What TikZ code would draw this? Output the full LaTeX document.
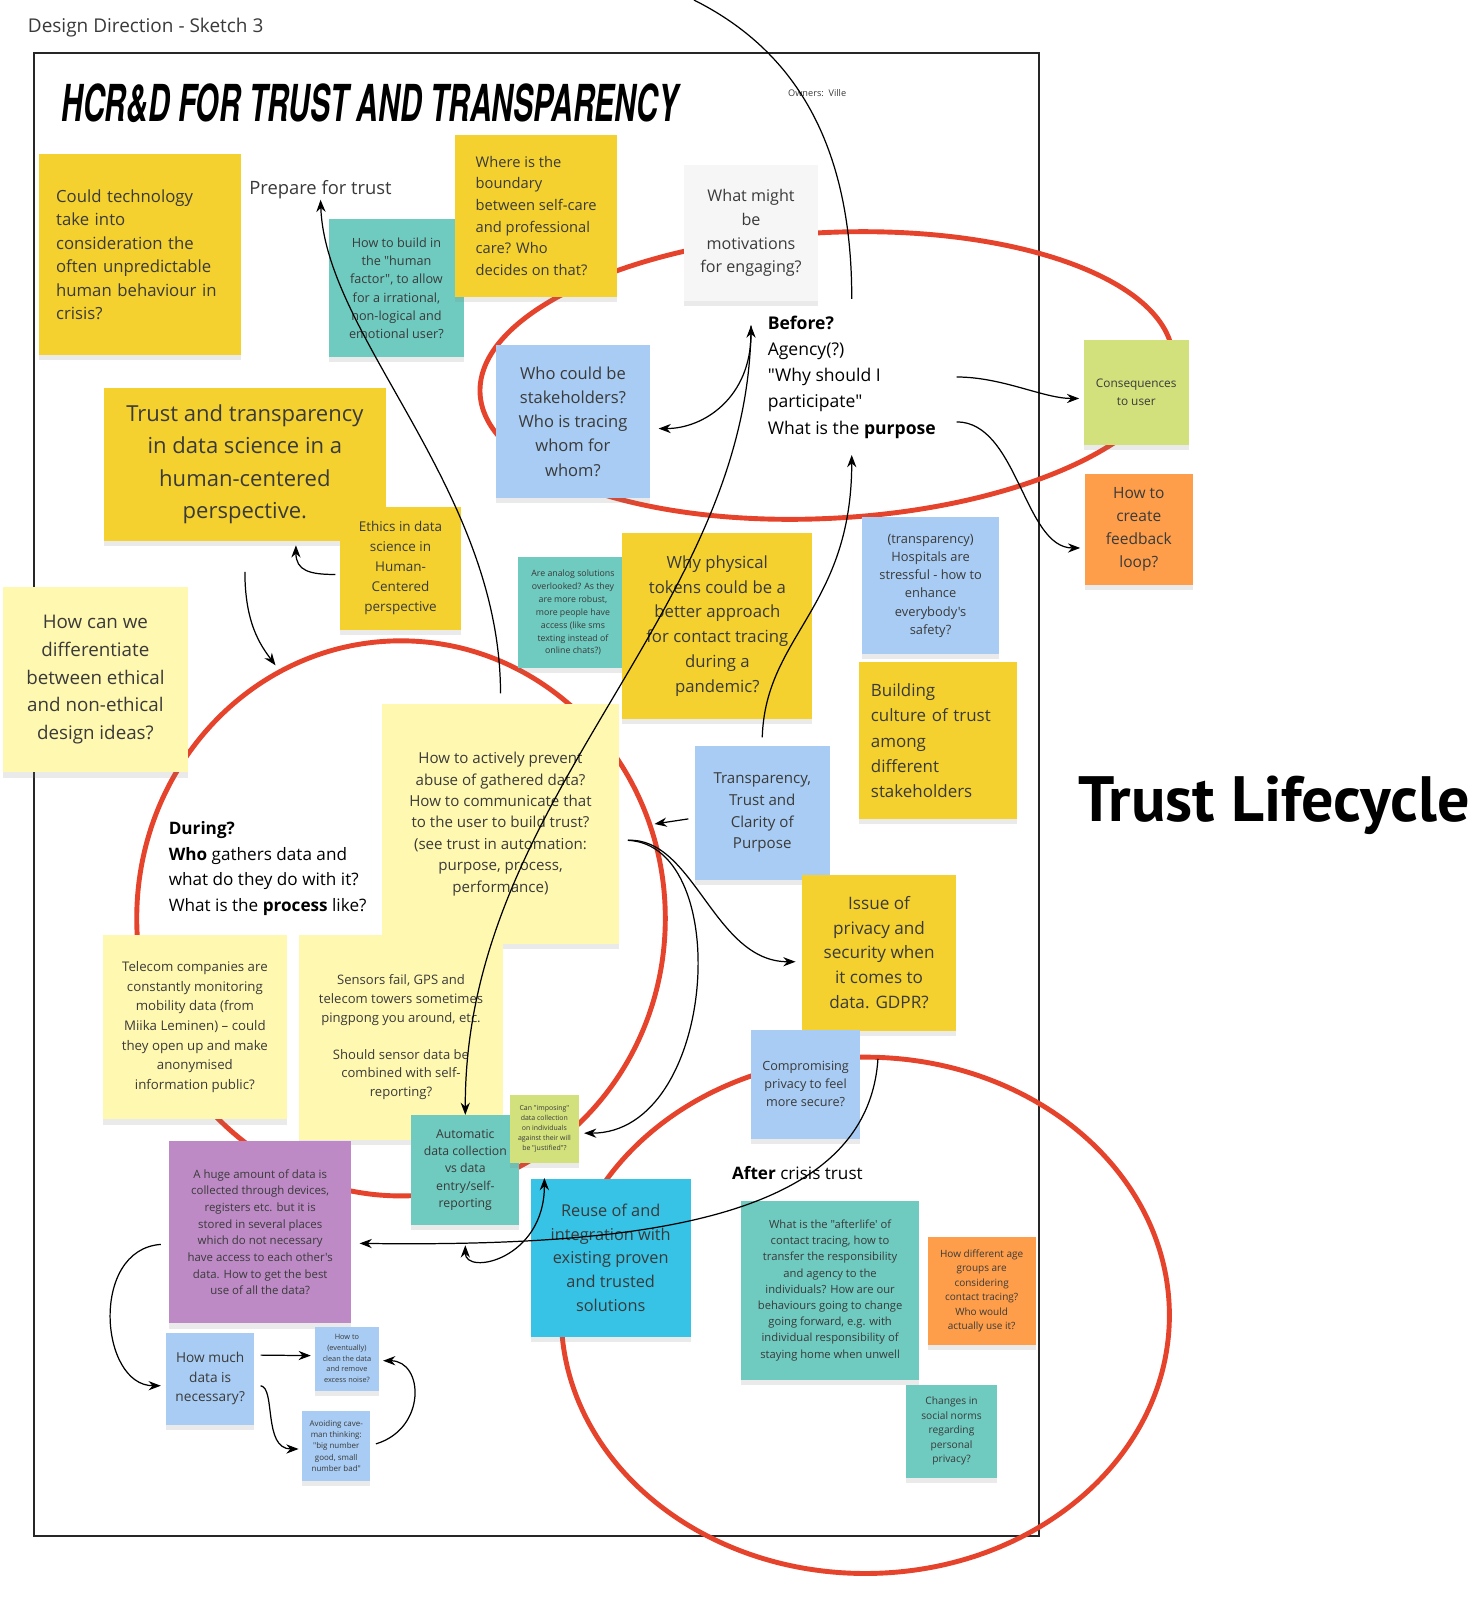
\documentclass[tikz,border=0pt]{standalone}
\usepackage{fontspec}
\usepackage{graphicx}
\setmainfont{Open Sans}[Ligatures=TeXOff]
\newfontfamily\titlefont{TeX Gyre Heros}
\newfontfamily\lifefont{PT Sans}
\usepackage{tikz}
\usetikzlibrary{arrows.meta,shadows,calc}
\definecolor{ink}{HTML}{3A3A3A}
\definecolor{stickyyellow}{HTML}{F4D12E}
\definecolor{stickypale}{HTML}{FFF8B0}
\definecolor{stickyteal}{HTML}{6FCABF}
\definecolor{stickyblue}{HTML}{A8CCF3}
\definecolor{stickylime}{HTML}{D2E17C}
\definecolor{stickyorange}{HTML}{FF9E4A}
\definecolor{stickypurple}{HTML}{BD8AC6}
\definecolor{stickycyan}{HTML}{36C3E6}
\definecolor{stickywhite}{HTML}{F6F6F6}
\definecolor{ringred}{HTML}{E5432B}
\newcommand\stickyfont[2]{\fontsize{#1}{#2}\selectfont}

\begin{document}
\begin{tikzpicture}[x=0.5pt,y=-0.5pt,
  sticky/.style={fill=#1,text=ink,inner sep=0pt,align=center,
    drop shadow={shadow xshift=0pt,shadow yshift=-2.5pt,opacity=.16}},
  sz/.style 2 args={minimum width=#1pt,minimum height=#2pt},
  plain/.style={inner sep=0pt,text=black},
  ring/.style={draw=ringred,line width=2.4pt},
  line/.style={line width=0.6pt},
  arr/.style={line width=0.6pt,-{Stealth[length=6pt,width=4.5pt]}},
  arrs/.style={line width=0.6pt,{Stealth[length=6pt,width=4.5pt]}-{Stealth[length=6pt,width=4.5pt]}}]
\useasboundingbox (0,0) rectangle (1452,1568);
\fill[white] (0,0) rectangle (1452,1568);
\node[plain,text=ink,anchor=base west,font=\stickyfont{9.3}{10}] (heading) at (27,32) {Design Direction - Sketch 3};
\draw[line width=1pt,draw=black!85] (33,52) rectangle (1018,1505);

% the three phases
\draw[ring,rotate around={3:(810,368)}] (810,368) ellipse [x radius=340,y radius=140];
\draw[ring] (393,900) ellipse [x radius=259,y radius=272];
\draw[ring] (848,1289) ellipse [x radius=298,y radius=253];

\node[plain,anchor=base west] (title) at (60,119) {\resizebox{302pt}{18.5pt}{\titlefont\bfseries\itshape HCR\&D FOR TRUST AND TRANSPARENCY}};
\node[plain,text=ink,anchor=base west,font=\stickyfont{4.5}{5}] (owners) at (772,95) {Owners:\ \ Ville};
\node[plain,anchor=base west] (lifecycle) at (1057,805) {\resizebox{191.5pt}{!}{\lifefont\bfseries Trust Lifecycle}};

% before
\node[sticky=stickyyellow,sz={99}{98.5},align=left,text width=82pt,font=\stickyfont{8.2}{11.5}] (couldtech) at (137,249.5) {Could technology\\take into\\consideration the\\often unpredictable\\human behaviour in\\crisis?};
\node[plain,text=ink,anchor=base west,font=\stickyfont{9}{10}] (prepare) at (244,191) {Prepare for trust};
\node[sticky=stickyteal,sz={66.5}{67.5},font=\stickyfont{6.2}{9}] (buildin) at (388.5,282.5) {How to build in\\the "human\\factor", to allow\\for a irrational,\\non-logical and\\emotional user?};
\node[sticky=stickyyellow,sz={79.5}{79.5},align=left,font=\stickyfont{7.2}{10.6}] (boundary) at (525.5,211.5) {Where is the\\boundary\\between self-care\\and professional\\care? Who\\decides on that?};
\node[sticky=stickywhite,sz={66}{66.5},font=\stickyfont{7.9}{11.6}] (motiv) at (736,228.5) {What might\\be\\motivations\\for engaging?};
\node[plain,anchor=north west,align=left,font=\stickyfont{8.6}{12.85}] (before) at (752,309) {\textbf{Before?}\\Agency(?)\\"Why should I\\participate"\\What is the \textbf{purpose}};
\node[sticky=stickyblue,sz={75.5}{75},font=\stickyfont{8.1}{11.9}] (whostake) at (561.5,413) {Who could be\\stakeholders?\\Who is tracing\\whom for\\whom?};
\node[sticky=stickylime,sz={51.5}{51.5},font=\stickyfont{5.8}{8.5}] (conseq) at (1113.5,384.5) {Consequences\\to user};
\node[sticky=stickyorange,sz={53}{54},font=\stickyfont{7.6}{11.3}] (feedback) at (1116,519) {How to\\create\\feedback\\loop?};
\node[sticky=stickyyellow,sz={138}{75},font=\stickyfont{10.8}{15.8}] (trustdata) at (240,455) {Trust and transparency\\in data science in a\\human-centered\\perspective.};
\node[sticky=stickyyellow,sz={59.5}{60},font=\stickyfont{6.6}{9.8}] (ethics) at (392.5,557) {Ethics in data\\science in\\Human-\\Centered\\perspective};
\node[sticky=stickypale,sz={90.5}{91},font=\stickyfont{9.2}{13.5}] (differ) at (93.5,666) {How can we\\differentiate\\between ethical\\and non-ethical\\design ideas?};
\node[sticky=stickyteal,sz={53.5}{54.5},font=\stickyfont{4.3}{6.3}] (analog) at (561.5,600.5) {Are analog solutions\\overlooked? As they\\are more robust,\\more people have\\access (like sms\\texting instead of\\online chats?)};
\node[sticky=stickyyellow,sz={93}{91.5},font=\stickyfont{8.2}{12.2}] (tokens) at (703,613.5) {Why physical\\tokens could be a\\better approach\\for contact tracing\\during a\\pandemic?};
\node[sticky=stickyblue,sz={67}{67},font=\stickyfont{6.3}{8.9}] (hospital) at (912,574) {(transparency)\\Hospitals are\\stressful - how to\\enhance\\everybody's\\safety?};
\node[sticky=stickyyellow,sz={77.5}{77},align=left,text width=66pt,font=\stickyfont{8.3}{12.4}] (culture) at (919.5,726) {Building\\culture of trust\\among\\different\\stakeholders};

% during
\node[sticky=stickypale,sz={116.5}{117.5},font=\stickyfont{7.4}{10.5}] (prevent) at (490.5,807.5) {How to actively prevent\\abuse of gathered data?\\How to communicate that\\to the user to build trust?\\(see trust in automation:\\purpose, process,\\performance)};
\node[plain,anchor=north west,align=left,font=\stickyfont{8.4}{12.5}] (during) at (165,805) {\textbf{During?}\\\textbf{Who} gathers data and\\what do they do with it?\\What is the \textbf{process} like?};
\node[sticky=stickyblue,sz={66}{65.5},font=\stickyfont{7.4}{10.6}] (transp) at (747,796.5) {Transparency,\\Trust and\\Clarity of\\Purpose};
\node[sticky=stickyyellow,sz={75.5}{76.5},font=\stickyfont{8.4}{12.1}] (privacy) at (861.5,933.5) {Issue of\\privacy and\\security when\\it comes to\\data. GDPR?};
\node[sticky=stickypale,sz={90}{90.5},font=\stickyfont{6.5}{9.6}] (telecom) at (191,1006.5) {Telecom companies are\\constantly monitoring\\mobility data (from\\Miika Leminen) – could\\they open up and make\\anonymised\\information public?};
\node[sticky=stickypale,sz={100}{100.5},font=\stickyfont{6.4}{9.1}] (sensors) at (393,1016.5) {Sensors fail, GPS and\\telecom towers sometimes\\pingpong you around, etc.\\[9.1pt]Should sensor data be\\combined with self-\\reporting?};
\node[sticky=stickyteal,sz={53}{53.5},font=\stickyfont{6}{8.5}] (autodata) at (456,1146.5) {Automatic\\data collection\\vs data\\entry/self-\\reporting};
\node[sticky=stickylime,sz={33.5}{33.5},font=\stickyfont{3.4}{4.9}] (imposing) at (533.5,1106.5) {Can "imposing"\\data collection\\on individuals\\against their will\\be "justified"?};
\node[sticky=stickyblue,sz={53.5}{53.5},font=\stickyfont{6.2}{8.7}] (compromise) at (789.5,1062.5) {Compromising\\privacy to feel\\more secure?};
\node[sticky=stickypurple,sz={89}{89.5},font=\stickyfont{5.6}{8.15}] (hugedata) at (255,1207.5) {A huge amount of data is\\collected through devices,\\registers etc. but it is\\stored in several places\\which do not necessary\\have access to each other's\\data. How to get the best\\use of all the data?};
\node[sticky=stickyblue,sz={43}{45},font=\stickyfont{6.7}{9.5}] (howmuch) at (206,1351) {How much\\data is\\necessary?};
\node[sticky=stickyblue,sz={31}{31.5},font=\stickyfont{3.6}{5.25}] (cleandata) at (340,1331.5) {How to\\(eventually)\\clean the data\\and remove\\excess noise?};
\node[sticky=stickyblue,sz={33.5}{34},font=\stickyfont{3.9}{5.6}] (caveman) at (329.5,1417) {Avoiding cave-\\man thinking:\\"big number\\good, small\\number bad"};

% after
\node[plain,anchor=base west,font=\stickyfont{8.4}{10}] (after) at (717,1156) {\textbf{After} crisis trust};
\node[sticky=stickycyan,sz={78.5}{77.5},font=\stickyfont{8}{11.6}] (reuse) at (598.5,1232.5) {Reuse of and\\integration with\\existing proven\\and trusted\\solutions};
\node[sticky=stickyteal,sz={87.5}{87.5},font=\stickyfont{5.5}{7.95}] (afterlife) at (813.5,1264.5) {What is the "afterlife' of\\contact tracing, how to\\transfer the responsibility\\and agency to the\\individuals? How are our\\behaviours going to change\\going forward, e.g. with\\individual responsibility of\\staying home when unwell};
\node[sticky=stickyorange,sz={53}{53},font=\stickyfont{4.9}{7.1}] (agegroups) at (962,1265) {How different age\\groups are\\considering\\contact tracing?\\Who would\\actually use it?};
\node[sticky=stickyteal,sz={44.5}{45.5},font=\stickyfont{5}{7.1}] (norms) at (932.5,1402.5) {Changes in\\social norms\\regarding\\personal\\privacy?};

% connectors
\coordinate (topedge) at (680,0);
\coordinate (durentry) at (270,652);
\draw[line] (topedge) .. controls (770,45) and (835,130) .. ([yshift=8pt]before.north);
\draw[arrs] ([xshift=-8pt,yshift=-5pt]before.north west) .. controls +(0,70) and +(45,0) .. ([xshift=4pt,yshift=-3.5pt]whostake.east);
\draw[arr] ([xshift=-8pt,yshift=-5pt]before.north west) .. controls (735,600) and (455,780) .. (autodata.north);
\draw[arr] ([xshift=10pt]before.east) .. controls +(45,0) and +(-35,0) .. ([xshift=-2pt,yshift=-3pt]conseq.west);
\draw[arr] ([xshift=10pt,yshift=-22pt]before.east) .. controls +(60,0) and +(-55,0) .. ([xshift=-2pt,yshift=-9pt]feedback.west);
\draw[arr] ([yshift=4pt]transp.north) .. controls +(3,-100) and +(0,150) .. ([yshift=-8pt]before.south);
\draw[arrs] ([yshift=-10pt]autodata.south) .. controls +(0,30) and +(0,80) .. ([yshift=-7pt]imposing.south);
\draw[arr] ([xshift=8.5pt,yshift=-14.5pt]compromise.north east) .. controls (850,1195) and (630,1222) .. ([xshift=4pt,yshift=-5.5pt]hugedata.east);
\draw[arr] ([xshift=4pt,yshift=-8pt]prevent.east) .. controls +(65,-3) and +(-80,0) .. ([xshift=-3pt,yshift=-4.5pt]privacy.west);
\draw[arr] ([xshift=4pt,yshift=-8pt]prevent.east) .. controls +(105,5) and +(130,0) .. ([xshift=2.5pt,yshift=-2pt]imposing.east);
\draw[arr] ([xshift=-3pt,yshift=-3pt]transp.west) -- ([xshift=17pt]prevent.east);
\draw[arr] ([yshift=5pt]prevent.north) .. controls +(0,-200) and +(5,135) .. (prepare.south);
\draw[arr] ([xshift=-2pt,yshift=-3pt]ethics.west) .. controls +(-25,0) and +(0,25) .. ([xshift=25pt,yshift=-2pt]trustdata.south);
\draw[arr] ([yshift=-15pt]trustdata.south) .. controls +(0,50) and +(-15,-20) .. (durentry);
\draw[arr] ([xshift=-4pt,yshift=-6pt]hugedata.west) .. controls +(-70,5) and +(-60,0) .. ([xshift=-2.5pt,yshift=-3.5pt]howmuch.west);
\draw[arr] ([xshift=3pt,yshift=11.5pt]howmuch.east) -- ([xshift=-2pt,yshift=1.5pt]cleandata.west);
\draw[arr] ([xshift=3pt,yshift=-3.5pt]howmuch.east) .. controls +(15,2) and +(-35,0) .. ([xshift=-1.5pt,yshift=-1.5pt]caveman.west);
\draw[arr] ([xshift=2.5pt,yshift=1pt]caveman.east) .. controls +(50,-15) and +(40,0) .. ([xshift=2pt,yshift=-1pt]cleandata.east);
\end{tikzpicture}
\end{document}
